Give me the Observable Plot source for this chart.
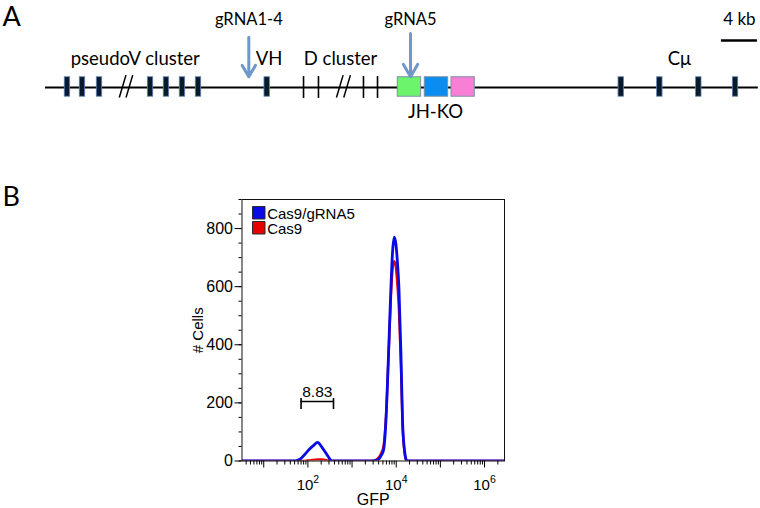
<!DOCTYPE html>
<html><head><meta charset="utf-8">
<script src="https://cdn.jsdelivr.net/npm/d3@7"></script>
<script src="https://cdn.jsdelivr.net/npm/@observablehq/plot@0.6"></script>
<style>
html,body{margin:0;padding:0;background:#fff;}
#chart{width:760px;height:508px;overflow:hidden;}
#chart svg{display:block;}
</style></head><body><div id="chart"></div>
<script>
// ---------- Panel A: locus map (positions in kb) ----------
const locusSpan = [0, 79.2];
const pseudoVExons = [2.44, 4.11, 6.0, 11.67, 13.44, 15.22, 17.0];
const vhExons = [24.63];
const dSegments = [28.67, 30.33, 35.33, 36.89];
const breakMarks = [8.2, 8.95, 32.33, 33.14];
const jhStart = [39.14, 42.14, 45.11];
const jhEnd = [41.74, 44.74, 47.7];
const jhColors = ["#6cf46c", "#0a8cf0", "#f77fd6"];
const cmuExons = [63.97, 68.26, 72.59, 76.67];
const guideNames = ["gRNA1-4", "gRNA5"];
const guideSites = [22.59, 40.56];
const regionNames = ["pseudoV cluster", "VH", "D cluster", "C\u03bc"];
const regionCenters = [9.97, 24.83, 32.78, 70.44];
const jhName = ["JH-KO"];
const jhCenter = [43.33];
const scaleBar = [75.1, 79.1];
const scaleName = ["4 kb"];

// ---------- Panel B: GFP histogram ----------
const seriesNames = ["Cas9/gRNA5", "Cas9"];
const seriesColors = ["#0a0ae6", "#e80000"];
const cas9gRNA5 = [[3.3,0],[50,0],[58,2],[66,6],[80,18],[104,38],[135,54],[166,64],[209,47],[249,30],[295,13],[334,2],[360,0],
  [3000,0],[3550,2],[4130,8],[4600,20],[5170,38],[5850,139],[6700,369],[7590,598],[8260,720],[9020,770],[9860,745],[10700,680],[11510,598],[12790,369],[13900,139],[15420,36],[16500,8],[17500,0],[2.8e6,0]];
const cas9 = [[3.3,0],[80,0],[100,2],[130,4],[170,5],[210,5],[260,3],[310,1],[340,0],
  [2800,0],[3400,3],[4000,12],[4600,28],[5170,52],[5850,150],[6700,360],[7590,565],[8260,660],[9020,688],[9860,665],[10700,600],[11510,520],[12790,330],[13900,125],[15420,30],[16500,6],[17500,0],[2.8e6,0]];
const xLabelTicks = [1e2, 1e4, 1e6];
const yLabelTicks = [0, 200, 400, 600, 800];
const gateRange = [70, 380];
const gateCount = 205;
const gateValue = ["8.83"];
const xTitle = ["GFP"];
const yTitle = ["# Cells"];

// ---------- Panel A ----------
const exonHalf = 0.3, boxTop = 1.08, boxBottom = -0.97;
const allExons = pseudoVExons.concat(vhExons, cmuExons);
const jhBoxes = jhStart.map((s, i) => ({s, e: jhEnd[i], c: jhColors[i]}));
const guides = guideSites.map((x, i) => ({x, name: guideNames[i], top: i === 0 ? 5.3 : 5.69}));
const regions = regionNames.map((n, i) => ({n, x: regionCenters[i]}));
const lato = "Lato, 'Open Sans', sans-serif";

const plotA = Plot.plot({
  width: 760, height: 130, margin: 0,
  x: {domain: [-5, 79.444], axis: null},
  y: {domain: [-4.526, 9.158], axis: null},
  style: {fontFamily: lato, background: "transparent", color: "#000"},
  marks: [
    Plot.ruleY([locusSpan], {y: () => 0, x1: d => d[0], x2: d => d[1], stroke: "#000", strokeWidth: 2}),
    Plot.link(breakMarks, {x1: d => d, y1: -1.05, x2: d => d + 0.74, y2: 1.3, stroke: "#000", strokeWidth: 1.5}),
    Plot.ruleX(dSegments, {x: d => d, y1: -1.15, y2: 1.15, stroke: "#000", strokeWidth: 1.6}),
    Plot.rect(allExons, {x1: d => d - exonHalf, x2: d => d + exonHalf, y1: boxBottom, y2: boxTop, fill: "#0a1a2c", stroke: "#5e82b2", strokeWidth: 0.8}),
    Plot.rect(jhBoxes, {x1: "s", x2: "e", y1: boxBottom, y2: boxTop, fill: "c", stroke: "#7f90a8", strokeWidth: 1}),
    Plot.arrow(guides, {x: "x", y1: "top", y2: 1.12, stroke: "#7097c9", strokeWidth: 3, headLength: 10, headAngle: 60}),
    Plot.text(guides, {x: "x", y: 6.58, text: "name", lineAnchor: "bottom", fontSize: 16.5}),
    Plot.text(regions, {x: "x", y: 2.32, text: "n", lineAnchor: "bottom", fontSize: 18.5}),
    Plot.text(jhName, {x: (d, i) => jhCenter[i], y: -3.26, text: d => d, lineAnchor: "bottom", fontSize: 18.5}),
    Plot.ruleY([scaleBar], {y: () => 4.95, x1: d => d[0], x2: d => d[1], stroke: "#000", strokeWidth: 2.5}),
    Plot.text(scaleName, {x: () => (scaleBar[0] + scaleBar[1]) / 2, y: 6.58, text: d => d, lineAnchor: "bottom", fontSize: 17}),
    Plot.text(["A"], {frameAnchor: "top-left", dx: 2, dy: 25.5, text: d => d, lineAnchor: "bottom", textAnchor: "start", fontSize: 27})
  ]
});

// ---------- Panel B ----------
const decades = d3.range(1, 7).map(k => 10 ** k);
const minors = [];
for (let k = 0; k <= 6; k++) for (let m = 2; m <= 9; m++) { const v = m * 10 ** k; if (v > 3.22 && v < 2.83e6) minors.push(v); }
const yMinor = d3.range(0, 901, 50);
const arial = "'Liberation Sans', Arial, sans-serif";

const legendMarks = seriesNames.flatMap((name, i) => [
  Plot.dot([name], {frameAnchor: "top-left", dx: 16.75, dy: 13.25 + 15 * i, symbol: "square", r: 7.05, fill: seriesColors[i], stroke: "#2a2a2a", strokeWidth: 1}),
  Plot.text([name], {frameAnchor: "top-left", dx: 25.2, dy: 19 + 15 * i, text: d => d, textAnchor: "start", lineAnchor: "bottom", fontSize: 15})
]);

const plotB = Plot.plot({
  width: 760, height: 378,
  marginTop: 69, marginBottom: 47.5, marginLeft: 241.5, marginRight: 256,
  x: {type: "log", domain: [3.22, 2.83e6]},
  y: {domain: [0, 900]},
  style: {fontFamily: arial, background: "transparent", color: "#000"},
  marks: [
    Plot.line(cas9, {x: d => d[0], y: d => d[1], stroke: seriesColors[1], strokeWidth: 2.4, curve: "monotone-x", clip: true}),
    Plot.line(cas9gRNA5, {x: d => d[0], y: d => d[1], stroke: seriesColors[0], strokeWidth: 2.8, curve: "monotone-x", clip: true}),
    Plot.frame({stroke: "#111", strokeWidth: 1}),
    Plot.axisY(yMinor, {tickSize: 3, tickFormat: () => "", label: null}),
    Plot.axisY(yLabelTicks, {tickSize: 7, tickPadding: 2, fontSize: 16, label: null}),
    Plot.axisX(minors, {tickSize: 4, tickFormat: () => "", label: null}),
    Plot.axisX(decades, {tickSize: 7, tickFormat: () => "", label: null}),
    Plot.text(xLabelTicks, {x: d => d, frameAnchor: "bottom", dy: 28.5, lineAnchor: "bottom", text: d => `10^${Math.round(Math.log10(d))}`, fontSize: 15}),
    Plot.text(xTitle, {frameAnchor: "bottom", dy: 43.5, lineAnchor: "bottom", text: d => d, fontSize: 16}),
    Plot.text(yTitle, {frameAnchor: "left", dx: -44, rotate: -90, textAnchor: "middle", text: d => d, fontSize: 15}),
    Plot.ruleY([gateCount], {x1: gateRange[0], x2: gateRange[1], stroke: "#000", strokeWidth: 1.6}),
    Plot.ruleX(gateRange, {x: d => d, y1: gateCount + 10, y2: gateCount - 28, stroke: "#000", strokeWidth: 1.6}),
    Plot.text(gateValue, {x: () => Math.sqrt(gateRange[0] * gateRange[1]), y: () => gateCount, dy: -4.5, lineAnchor: "bottom", text: d => d, fontSize: 15.5}),
    ...legendMarks,
    Plot.text(["B"], {frameAnchor: "top-left", dx: -239.5, dy: 6.5, text: d => d, lineAnchor: "bottom", textAnchor: "start", fontSize: 27, fontFamily: lato})
  ]
});

d3.select(plotB).selectAll("text").each(function () {
  const s = this.textContent;
  if (!/^10\^\d$/.test(s)) return;
  const [base, exp] = s.split("^");
  const t = d3.select(this);
  t.text(base);
  t.append("tspan").attr("dy", -7).attr("font-size", 10.5).text(exp);
});

const chart = document.getElementById("chart");
chart.appendChild(plotA);
chart.appendChild(plotB);
</script></body></html>
